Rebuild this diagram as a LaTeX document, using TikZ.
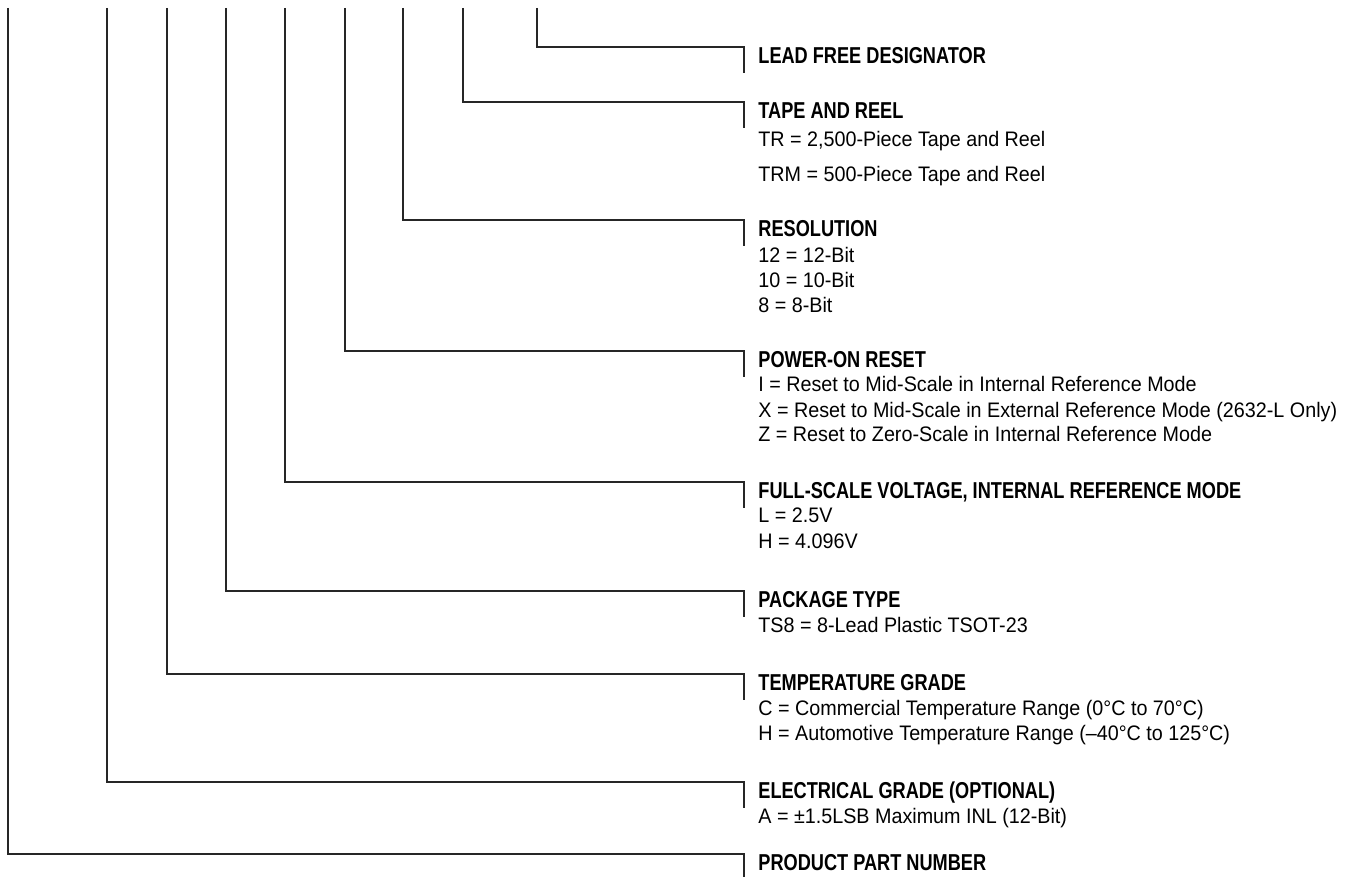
\documentclass[tikz,border=0pt]{standalone}
\usepackage{fontspec}
\setmainfont{Liberation Sans}[FakeStretch=0.94]
\newfontfamily\headfont{Liberation Sans}[FakeStretch=0.79]
\begin{document}
\begin{tikzpicture}[x=0.5pt,y=-0.5pt,
  lead/.style={line width=0.75pt,draw=black!85},
  head/.style={anchor=base west,inner sep=0pt,font=\headfont\bfseries\fontsize{11.5}{13}\selectfont},
  item/.style={anchor=base west,inner sep=0pt,font=\fontsize{10.5}{12}\selectfont}]
\useasboundingbox (0,0) rectangle (1356,877);
% tops of the vertical leads
\foreach \n/\x in {p/8,e/107,t/167,k/226,f/285,r/345,b/403,q/463,l/537}
  \coordinate (top\n) at (\x,8);
% corner points at the tick column
\foreach \n/\y in {l/47,q/102,b/220,r/351,f/482,k/591,t/674,e/782,p/854}
  \coordinate (c\n) at (744,\y);
\foreach \n in {p,e,t,k,f,r,b,q,l}
  \draw[lead] (top\n) |- (c\n) -- ++(0,26);
% headings and entries
\node[head] (hl) at (758,63.5) {LEAD FREE DESIGNATOR};
\node[head] (hq) at (758,118.5) {TAPE AND REEL};
\node[item] (q1) at (758,147) {TR = 2,500-Piece Tape and Reel};
\node[item] (q2) at (758,182) {TRM = 500-Piece Tape and Reel};
\node[head] (hb) at (758,236.5) {RESOLUTION};
\node[item] (b1) at (758,263) {12 = 12-Bit};
\node[item] (b2) at (758,288) {10 = 10-Bit};
\node[item] (b3) at (758,313) {8 = 8-Bit};
\node[head] (hr) at (758,367.5) {POWER-ON RESET};
\node[item] (r1) at (758,392) {I = Reset to Mid-Scale in Internal Reference Mode};
\node[item] (r2) at (758,417) {X = Reset to Mid-Scale in External Reference Mode (2632-L Only)};
\node[item] (r3) at (758,442) {Z = Reset to Zero-Scale in Internal Reference Mode};
\node[head] (hf) at (758,498.5) {FULL-SCALE VOLTAGE, INTERNAL REFERENCE MODE};
\node[item] (f1) at (758,523) {L = 2.5V};
\node[item] (f2) at (758,548) {H = 4.096V};
\node[head] (hk) at (758,607.5) {PACKAGE TYPE};
\node[item] (k1) at (758,632) {TS8 = 8-Lead Plastic TSOT-23};
\node[head] (ht) at (758,690.5) {TEMPERATURE GRADE};
\node[item] (t1) at (758,715) {C = Commercial Temperature Range (0°C to 70°C)};
\node[item] (t2) at (758,740) {H = Automotive Temperature Range (–40°C to 125°C)};
\node[head] (he) at (758,798.5) {ELECTRICAL GRADE (OPTIONAL)};
\node[item] (e1) at (758,823) {A = ±1.5LSB Maximum INL (12-Bit)};
\node[head] (hp) at (758,870.5) {PRODUCT PART NUMBER};
\end{tikzpicture}
\end{document}
